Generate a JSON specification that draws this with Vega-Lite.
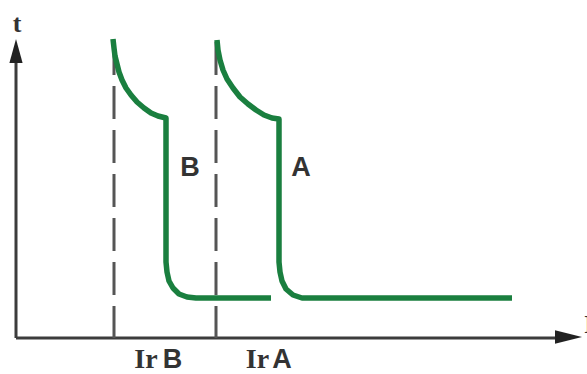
{
  "$schema": "https://vega.github.io/schema/vega-lite/v6.json",
  "width": 587,
  "height": 374,
  "padding": 0,
  "autosize": {"type": "none"},
  "background": "white",
  "config": {"view": {"stroke": null}},
  "datasets": {
    "axes": [
      {"I": 0, "t": 0, "I2": 0, "t2": 283},
      {"I": 0, "t": 0, "I2": 544, "t2": 0}
    ],
    "dashes": [
      {"name": "Ir B", "I": 98, "top": 296, "bottom": 0},
      {"name": "Ir A", "I": 200, "top": 296, "bottom": 0}
    ],
    "curves": [
      {"s": "B", "o": 1, "I": 97, "t": 299},
      {"s": "B", "o": 2, "I": 98, "t": 290},
      {"s": "B", "o": 3, "I": 99, "t": 282},
      {"s": "B", "o": 4, "I": 101, "t": 274},
      {"s": "B", "o": 5, "I": 103, "t": 266},
      {"s": "B", "o": 6, "I": 106, "t": 258},
      {"s": "B", "o": 7, "I": 110, "t": 250},
      {"s": "B", "o": 8, "I": 115, "t": 243},
      {"s": "B", "o": 9, "I": 121, "t": 236},
      {"s": "B", "o": 10, "I": 128, "t": 230},
      {"s": "B", "o": 11, "I": 135, "t": 225},
      {"s": "B", "o": 12, "I": 142, "t": 222},
      {"s": "B", "o": 13, "I": 150, "t": 220},
      {"s": "B", "o": 14, "I": 150, "t": 76},
      {"s": "B", "o": 15, "I": 151, "t": 66},
      {"s": "B", "o": 16, "I": 153, "t": 57},
      {"s": "B", "o": 17, "I": 157, "t": 50},
      {"s": "B", "o": 18, "I": 163, "t": 44},
      {"s": "B", "o": 19, "I": 171, "t": 41},
      {"s": "B", "o": 20, "I": 180, "t": 40},
      {"s": "B", "o": 21, "I": 255, "t": 40},
      {"s": "A", "o": 1, "I": 201, "t": 298},
      {"s": "A", "o": 2, "I": 202, "t": 288},
      {"s": "A", "o": 3, "I": 204, "t": 278},
      {"s": "A", "o": 4, "I": 207, "t": 268},
      {"s": "A", "o": 5, "I": 211, "t": 259},
      {"s": "A", "o": 6, "I": 217, "t": 250},
      {"s": "A", "o": 7, "I": 224, "t": 241},
      {"s": "A", "o": 8, "I": 232, "t": 234},
      {"s": "A", "o": 9, "I": 240, "t": 228},
      {"s": "A", "o": 10, "I": 248, "t": 223},
      {"s": "A", "o": 11, "I": 256, "t": 220},
      {"s": "A", "o": 12, "I": 263, "t": 219},
      {"s": "A", "o": 13, "I": 263, "t": 76},
      {"s": "A", "o": 14, "I": 264, "t": 66},
      {"s": "A", "o": 15, "I": 266, "t": 57},
      {"s": "A", "o": 16, "I": 270, "t": 49},
      {"s": "A", "o": 17, "I": 277, "t": 43},
      {"s": "A", "o": 18, "I": 286, "t": 40},
      {"s": "A", "o": 19, "I": 294, "t": 40},
      {"s": "A", "o": 20, "I": 496, "t": 40}
    ],
    "arrowUp": [{"I": 0, "t": 287}],
    "arrowRight": [{"I": 552.5, "t": 1}],
    "serifTop": [
      {"label": "t", "I": 1, "t": 314},
      {"label": "I", "I": 573, "t": 13}
    ],
    "serifLabels": [
      {"label": "Ir", "I": 130, "t": -22},
      {"label": "Ir", "I": 241.5, "t": -22}
    ],
    "sansLabels": [
      {"label": "B", "I": 156.5, "t": -22},
      {"label": "A", "I": 266, "t": -22}
    ],
    "curveLabels": [
      {"label": "B", "I": 174, "t": 170},
      {"label": "A", "I": 285, "t": 170}
    ]
  },
  "layer": [
    {
      "data": {"name": "axes"},
      "mark": {"type": "rule", "color": "#3c3c3c", "strokeWidth": 3},
      "encoding": {
        "x": {"field": "I", "type": "quantitative", "scale": {"domain": [-16, 571], "nice": false, "zero": false}, "axis": null},
        "x2": {"field": "I2"},
        "y": {"field": "t", "type": "quantitative", "scale": {"domain": [-36, 338], "nice": false, "zero": false}, "axis": null},
        "y2": {"field": "t2"}
      }
    },
    {
      "data": {"name": "dashes"},
      "mark": {"type": "rule", "color": "#555555", "strokeWidth": 3, "strokeDash": [33, 11]},
      "encoding": {
        "x": {"field": "I", "type": "quantitative", "scale": {"domain": [-16, 571], "nice": false, "zero": false}, "axis": null},
        "y": {"field": "top", "type": "quantitative", "scale": {"domain": [-36, 338], "nice": false, "zero": false}, "axis": null},
        "y2": {"field": "bottom"}
      }
    },
    {
      "data": {"name": "curves"},
      "mark": {"type": "line", "color": "#1a7f3f", "strokeWidth": 5.5, "strokeJoin": "round", "interpolate": "linear"},
      "encoding": {
        "x": {"field": "I", "type": "quantitative", "scale": {"domain": [-16, 571], "nice": false, "zero": false}, "axis": null},
        "y": {"field": "t", "type": "quantitative", "scale": {"domain": [-36, 338], "nice": false, "zero": false}, "axis": null},
        "detail": {"field": "s"},
        "order": {"field": "o", "type": "quantitative"}
      }
    },
    {
      "data": {"name": "arrowUp"},
      "mark": {"type": "point", "shape": "M0,-1L0.55,1L-0.55,1Z", "size": 576, "filled": true, "color": "#222222", "opacity": 1},
      "encoding": {
        "x": {"field": "I", "type": "quantitative", "scale": {"domain": [-16, 571], "nice": false, "zero": false}, "axis": null},
        "y": {"field": "t", "type": "quantitative", "scale": {"domain": [-36, 338], "nice": false, "zero": false}, "axis": null}
      }
    },
    {
      "data": {"name": "arrowRight"},
      "mark": {"type": "point", "shape": "M1,0L-1,-0.5L-1,0.5Z", "size": 729, "filled": true, "color": "#222222", "opacity": 1},
      "encoding": {
        "x": {"field": "I", "type": "quantitative", "scale": {"domain": [-16, 571], "nice": false, "zero": false}, "axis": null},
        "y": {"field": "t", "type": "quantitative", "scale": {"domain": [-36, 338], "nice": false, "zero": false}, "axis": null}
      }
    },
    {
      "data": {"name": "serifTop"},
      "mark": {"type": "text", "font": "Liberation Serif", "fontWeight": "bold", "fontSize": 26, "color": "#333333", "baseline": "middle", "align": "center"},
      "encoding": {
        "x": {"field": "I", "type": "quantitative", "scale": {"domain": [-16, 571], "nice": false, "zero": false}, "axis": null},
        "y": {"field": "t", "type": "quantitative", "scale": {"domain": [-36, 338], "nice": false, "zero": false}, "axis": null},
        "text": {"field": "label"}
      }
    },
    {
      "data": {"name": "serifLabels"},
      "mark": {"type": "text", "font": "Liberation Serif", "fontWeight": "bold", "fontSize": 28, "color": "#333333", "baseline": "middle", "align": "center"},
      "encoding": {
        "x": {"field": "I", "type": "quantitative", "scale": {"domain": [-16, 571], "nice": false, "zero": false}, "axis": null},
        "y": {"field": "t", "type": "quantitative", "scale": {"domain": [-36, 338], "nice": false, "zero": false}, "axis": null},
        "text": {"field": "label"}
      }
    },
    {
      "data": {"name": "sansLabels"},
      "mark": {"type": "text", "font": "Liberation Sans", "fontWeight": "bold", "fontSize": 27, "color": "#333333", "baseline": "middle", "align": "center"},
      "encoding": {
        "x": {"field": "I", "type": "quantitative", "scale": {"domain": [-16, 571], "nice": false, "zero": false}, "axis": null},
        "y": {"field": "t", "type": "quantitative", "scale": {"domain": [-36, 338], "nice": false, "zero": false}, "axis": null},
        "text": {"field": "label"}
      }
    },
    {
      "data": {"name": "curveLabels"},
      "mark": {"type": "text", "font": "Liberation Sans", "fontWeight": "bold", "fontSize": 27, "color": "#333333", "baseline": "middle", "align": "center"},
      "encoding": {
        "x": {"field": "I", "type": "quantitative", "scale": {"domain": [-16, 571], "nice": false, "zero": false}, "axis": null},
        "y": {"field": "t", "type": "quantitative", "scale": {"domain": [-36, 338], "nice": false, "zero": false}, "axis": null},
        "text": {"field": "label"}
      }
    }
  ]
}
